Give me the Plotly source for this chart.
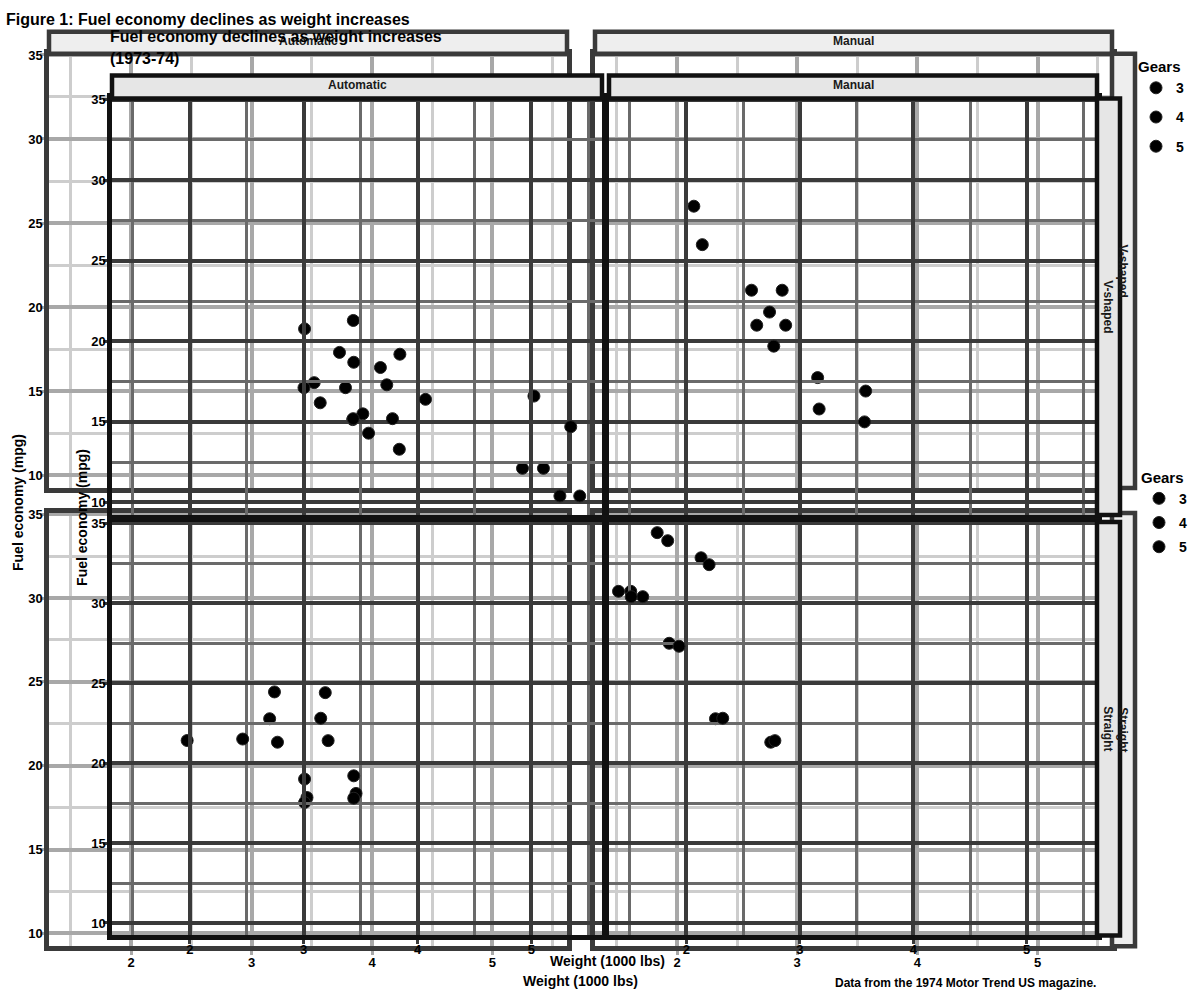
import plotly.graph_objects as go

# ---------------- data (mtcars) ----------------
car_wt = [2.620, 2.875, 2.320, 3.215, 3.440, 3.460, 3.570, 3.190, 3.150, 3.440, 3.440,
          4.070, 3.730, 3.780, 5.250, 5.424, 5.345, 2.200, 1.615, 1.835, 2.465, 3.520,
          3.435, 3.840, 3.845, 1.935, 2.140, 1.513, 3.170, 2.770, 3.570, 2.780]
car_mpg = [21.0, 21.0, 22.8, 21.4, 18.7, 18.1, 14.3, 24.4, 22.8, 19.2, 17.8,
           16.4, 17.3, 15.2, 10.4, 10.4, 14.7, 32.4, 30.4, 33.9, 21.5, 15.5,
           15.2, 13.3, 19.2, 27.3, 26.0, 30.4, 15.8, 19.7, 15.0, 21.4]
car_vs = [0, 0, 1, 1, 0, 1, 0, 1, 1, 1, 1, 0, 0, 0, 0, 0, 0, 1, 1, 1, 1, 0,
          0, 0, 0, 1, 0, 1, 0, 0, 0, 1]
car_am = [1, 1, 1, 0, 0, 0, 0, 0, 0, 0, 0, 0, 0, 0, 0, 0, 0, 1, 1, 1, 0, 0,
          0, 0, 0, 1, 1, 1, 1, 1, 1, 1]
car_gear = [4, 4, 4, 3, 3, 3, 3, 4, 4, 4, 4, 3, 3, 3, 3, 3, 3, 4, 4, 4, 3, 3,
            3, 3, 3, 4, 5, 5, 5, 5, 5, 4]

col_labels = ["Automatic", "Manual"]      # am = 0, 1
row_labels = ["V-shaped", "Straight"]     # vs = 0, 1
gear_levels = [3, 4, 5]
x_ticks = [2, 3, 4, 5]
x_minor = [1.5, 2.5, 3.5, 4.5, 5.5]
y_ticks = [10, 15, 20, 25, 30, 35]
y_minor = [12.5, 17.5, 22.5, 27.5, 32.5]

title_outer = "Figure 1: Fuel economy declines as weight increases"
title_inner = "Fuel economy declines as weight increases"
subtitle_inner = "(1973-74)"
x_title = "Weight (1000 lbs)"
y_title = "Fuel economy (mpg)"
caption = "Data from the 1974 Motor Trend US magazine."
legend_title = "Gears"

# ---------------- layout helpers ----------------
W, H = 1200, 1000
FONT = "Liberation Sans"


def fx(px):
    return px / W


def fy(py):
    return 1 - py / H


xr = [min(car_wt) - 0.05 * (max(car_wt) - min(car_wt)), max(car_wt) + 0.05 * (max(car_wt) - min(car_wt))]
yr = [min(car_mpg) - 0.05 * (max(car_mpg) - min(car_mpg)), max(car_mpg) + 0.05 * (max(car_mpg) - min(car_mpg))]

copies = [
    dict(cols=[(49, 567), (595, 1112)], rows=[(48, 485), (510, 946)],
         top_strip=(26, 48), right_strip=(1112, 1135),
         major="#a8a8a8", minor="#cdcdcd", border="#3a3a3a", strip_fill="#eeeeee",
         legend="legend", xstand=-4, ystand=-5),
    dict(cols=[(112, 602), (609, 1097)], rows=[(93, 512), (519, 935)],
         top_strip=(70, 93), right_strip=(1097, 1120),
         major="#3a3a3a", minor="#6a6a6a", border="#111111", strip_fill="#e6e6e6",
         legend="legend2", xstand=-6, ystand=-5),
]

fig = go.Figure()
layout = {}
shapes = []
annotations = []

n = 0
for ci, cp in enumerate(copies):
    shown = set()
    for r in range(2):
        for c in range(2):
            n += 1
            xname = "xaxis" if n == 1 else f"xaxis{n}"
            yname = "yaxis" if n == 1 else f"yaxis{n}"
            xid = "x" if n == 1 else f"x{n}"
            yid = "y" if n == 1 else f"y{n}"
            x0, x1 = cp["cols"][c]
            y0, y1 = cp["rows"][r]
            tickfont = dict(family=FONT, size=13, color="black", weight="bold")
            layout[xname] = dict(
                domain=[fx(x0), fx(x1)], range=xr, anchor=yid,
                tickmode="array", tickvals=x_ticks,
                showticklabels=(r == 1), ticks="outside" if r == 1 else "",
                ticklen=4, tickwidth=3, tickcolor=cp["major"],
                ticklabelstandoff=cp["xstand"],
                showgrid=True, gridcolor=cp["major"], gridwidth=3.5,
                minor=dict(tickmode="array", tickvals=x_minor,
                           showgrid=True, gridcolor=cp["minor"], gridwidth=3),
                showline=True, mirror=True, linecolor=cp["border"], linewidth=4.5,
                zeroline=False, tickfont=tickfont, fixedrange=True,
            )
            layout[yname] = dict(
                domain=[fy(y1), fy(y0)], range=yr, anchor=xid,
                tickmode="array", tickvals=y_ticks,
                showticklabels=(c == 0), ticks="outside" if c == 0 else "",
                ticklen=4, tickwidth=3, tickcolor=cp["major"],
                ticklabelstandoff=cp["ystand"],
                showgrid=True, gridcolor=cp["major"], gridwidth=3.5,
                minor=dict(tickmode="array", tickvals=y_minor,
                           showgrid=True, gridcolor=cp["minor"], gridwidth=3),
                showline=True, mirror=True, linecolor=cp["border"], linewidth=4.5,
                zeroline=False, tickfont=tickfont, fixedrange=True,
            )
            for g in gear_levels:
                idx = [i for i in range(len(car_wt))
                       if car_vs[i] == r and car_am[i] == c and car_gear[i] == g]
                if not idx:
                    continue
                fig.add_trace(go.Scatter(
                    x=[car_wt[i] for i in idx], y=[car_mpg[i] for i in idx],
                    mode="markers", name=str(g), legendgroup=f"g{g}_{ci}",
                    legend=cp["legend"], legendrank=g,
                    showlegend=(g not in shown),
                    marker=dict(color="black", size=12,
                                line=dict(color="#222222", width=1)),
                    xaxis=xid, yaxis=yid, hoverinfo="skip",
                ))
                shown.add(g)

    # strips
    ts0, ts1 = cp["top_strip"]
    for c in range(2):
        x0, x1 = cp["cols"][c]
        shapes.append(dict(type="rect", xref="paper", yref="paper",
                           x0=fx(x0), x1=fx(x1), y0=fy(ts1), y1=fy(ts0),
                           fillcolor=cp["strip_fill"], line=dict(color=cp["border"], width=4.5),
                           layer="above"))
        annotations.append(dict(xref="paper", yref="paper", x=fx((x0 + x1) / 2), y=fy((ts0 + ts1) / 2 - 2),
                                text=col_labels[c], showarrow=False,
                                font=dict(family=FONT, size=12, color="#1a1a1a", weight="bold"),
                                xanchor="center", yanchor="middle"))
    rs0, rs1 = cp["right_strip"]
    for r in range(2):
        y0, y1 = cp["rows"][r]
        shapes.append(dict(type="rect", xref="paper", yref="paper",
                           x0=fx(rs0), x1=fx(rs1), y0=fy(y1), y1=fy(y0),
                           fillcolor=cp["strip_fill"], line=dict(color=cp["border"], width=4.5),
                           layer="above"))
        annotations.append(dict(xref="paper", yref="paper", x=fx((rs0 + rs1) / 2), y=fy((y0 + y1) / 2),
                                text=row_labels[r], showarrow=False, textangle=90,
                                font=dict(family=FONT, size=12, color="#1a1a1a", weight="bold"),
                                xanchor="center", yanchor="middle"))


# titles and labels
def txt(text, x, y, size, xanchor="left", angle=0):
    annotations.append(dict(xref="paper", yref="paper", x=fx(x), y=fy(y), text=text,
                            showarrow=False, textangle=angle,
                            font=dict(family=FONT, size=size, color="black", weight="bold"),
                            xanchor=xanchor, yanchor="middle"))


txt(title_outer, 4, 14, 16)
txt(title_inner, 108, 31, 16)
txt(subtitle_inner, 108, 53, 16)
txt(x_title, 607, 961, 14, "center")
txt(x_title, 580, 981, 14, "center")
txt(y_title, 18, 500, 14, "center", -90)
txt(y_title, 82, 515, 14, "center", -90)
txt(caption, 1098, 983, 12, "right")

legend_common = dict(xanchor="left", yanchor="top", bgcolor="rgba(0,0,0,0)",
                     font=dict(family=FONT, size=14, color="black", weight="bold"),
                     traceorder="grouped", itemwidth=30)
layout["legend"] = dict(legend_common, x=fx(1136), y=fy(47), tracegroupgap=8,
                        title=dict(text=legend_title, font=dict(family=FONT, size=15, color="black", weight="bold")))
layout["legend2"] = dict(legend_common, x=fx(1139), y=fy(460), tracegroupgap=3,
                         title=dict(text=legend_title, font=dict(family=FONT, size=15, color="black", weight="bold")))

fig.update_layout(
    width=W, height=H,
    margin=dict(l=0, r=0, t=0, b=0),
    paper_bgcolor="white", plot_bgcolor="rgba(0,0,0,0)",
    shapes=shapes, annotations=annotations,
    **layout,
)

fig.write_html("out.html", config={"displayModeBar": False},
               post_script="document.body.style.margin='0px';")
